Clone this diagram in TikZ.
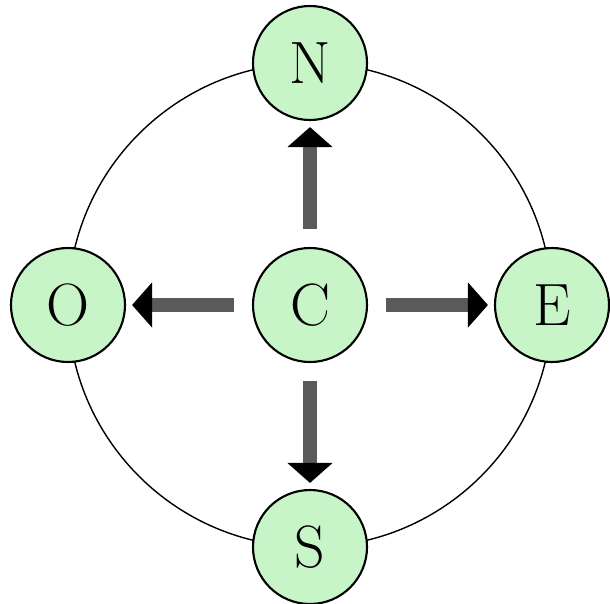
\documentclass[tikz,border=0pt]{standalone}
\usetikzlibrary{arrows.meta,positioning}
\definecolor{mint}{HTML}{C8F5C8}
\definecolor{shaftgrey}{HTML}{5A5A5A}

\begin{document}
\begin{tikzpicture}[
    place/.style={circle, draw=black, line width=0.6pt, fill=mint,
        minimum size=1.14cm, inner sep=0pt, font=\fontsize{17}{20}\selectfont},
    move/.style={line width=0.14cm, draw=shaftgrey,
        -{Triangle[length=0.2cm, width=0.44cm, color=black]},
        shorten <=0.18cm, shorten >=0.06cm},
    node distance=2.42cm, on grid,
]
\useasboundingbox (-3.10,-2.98) rectangle (3.00,3.05);

% Ring through the four outer places
\coordinate (mid) at (0,0);
\draw[thin] (mid) circle[radius=2.42cm];

% Places
\node[place] (C) at (mid) {C};
\node[place, above=of C] (N) {N};
\node[place, right=of C] (E) {E};
\node[place, below=of C] (S) {S};
\node[place, left=of C] (O) {O};

% Moves from the centre
\foreach \d in {N,E,S,O} {
    \draw[move] (C) -- (\d);
}

\end{tikzpicture}
\end{document}
